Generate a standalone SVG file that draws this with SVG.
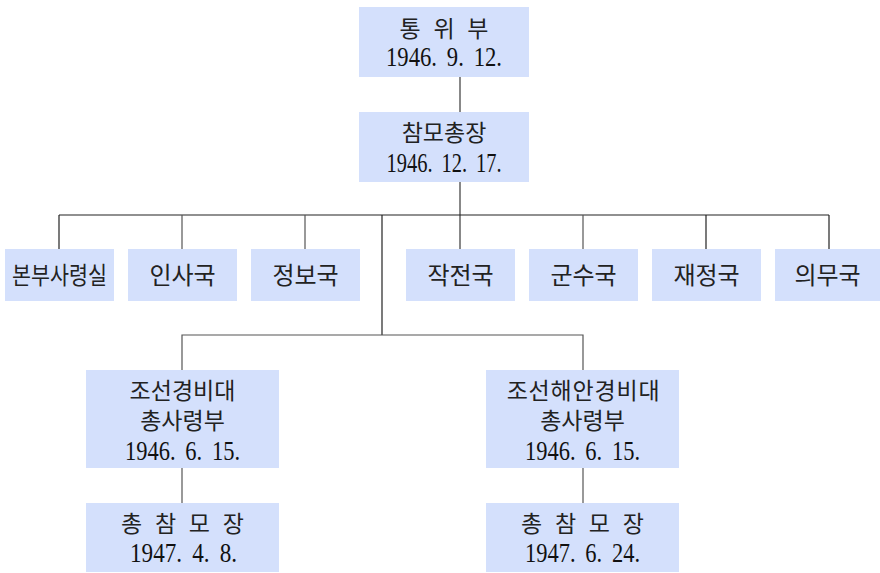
<svg xmlns="http://www.w3.org/2000/svg" width="880" height="573" viewBox="0 0 880 573">
<style>
.box{fill:#D4E0FC;}
.t{font-family:"Liberation Serif","Noto Sans CJK KR",serif;font-size:23px;fill:#222;text-anchor:middle;}
.r{font-size:24px;}
.n{font-family:"Liberation Serif","Noto Sans CJK KR",serif;font-size:27px;fill:#111;text-anchor:middle;word-spacing:5px;}
.sp{word-spacing:7px;}
.ln{stroke:#222;stroke-width:1.2;fill:none;}
.trunk{stroke:#888;stroke-width:2;fill:none;}
.gl{stroke:#555;stroke-width:1.2;fill:none;}
</style>
<rect width="880" height="573" fill="#fff"/>
<g id="connectors">
<line class="trunk" x1="460" y1="77" x2="460" y2="112"/>
<line class="trunk" x1="460" y1="182" x2="460" y2="249"/>
<line class="ln" x1="59" y1="215" x2="829" y2="215"/>
<line class="ln" x1="59" y1="215" x2="59" y2="249"/>
<line class="gl" x1="182" y1="215" x2="182" y2="249"/>
<line class="gl" x1="305" y1="215" x2="305" y2="249"/>
<line class="gl" x1="583" y1="215" x2="583" y2="249"/>
<line class="ln" x1="706" y1="215" x2="706" y2="249"/>
<line class="ln" x1="829" y1="215" x2="829" y2="249"/>
<line class="ln" x1="382" y1="215" x2="382" y2="335"/>
<polyline class="gl" points="182,370 182,335 583,335 583,370"/>
<line class="gl" x1="182" y1="468" x2="182" y2="503"/>
<line class="gl" x1="583" y1="468" x2="583" y2="503"/>
</g>
<g id="n-tongwibu">
<rect class="box" x="359" y="7" width="170" height="70"/>
<text class="t sp" x="444" y="37">통 위 부</text>
<text class="n" x="444" y="66" textLength="116" lengthAdjust="spacingAndGlyphs">1946. 9. 12.</text>
</g>
<g id="n-chammo">
<rect class="box" x="359" y="112" width="170" height="70"/>
<text class="t" x="444" y="141">참모총장</text>
<text class="n" x="444" y="172" textLength="115" lengthAdjust="spacingAndGlyphs">1946. 12. 17.</text>
</g>
<g id="n-bonbu">
<rect class="box" x="5" y="249" width="109" height="52"/>
<text class="t r" x="59.5" y="284" textLength="95" lengthAdjust="spacingAndGlyphs">본부사령실</text>
</g>
<g id="n-insa">
<rect class="box" x="128" y="249" width="109" height="52"/>
<text class="t r" x="182.5" y="284">인사국</text>
</g>
<g id="n-jeongbo">
<rect class="box" x="251" y="249" width="109" height="52"/>
<text class="t r" x="305.5" y="284">정보국</text>
</g>
<g id="n-jakjeon">
<rect class="box" x="406" y="249" width="109" height="52"/>
<text class="t r" x="460.5" y="284">작전국</text>
</g>
<g id="n-gunsu">
<rect class="box" x="529" y="249" width="109" height="52"/>
<text class="t r" x="583.5" y="284">군수국</text>
</g>
<g id="n-jaejeong">
<rect class="box" x="652" y="249" width="109" height="52"/>
<text class="t r" x="706.5" y="284">재정국</text>
</g>
<g id="n-uimu">
<rect class="box" x="775" y="249" width="109" height="52"/>
<text class="t r" x="827.5" y="284">의무국</text>
</g>
<g id="n-gyeongbi">
<rect class="box" x="86" y="370" width="193" height="98"/>
<text class="t" x="182.5" y="399">조선경비대</text>
<text class="t" x="182.5" y="429">총사령부</text>
<text class="n" x="182.5" y="460" textLength="115" lengthAdjust="spacingAndGlyphs">1946. 6. 15.</text>
</g>
<g id="n-haean">
<rect class="box" x="486" y="370" width="193" height="98"/>
<text class="t" x="583.5" y="399" letter-spacing="0.8">조선해안경비대</text>
<text class="t" x="582.5" y="429">총사령부</text>
<text class="n" x="582.5" y="460" textLength="115" lengthAdjust="spacingAndGlyphs">1946. 6. 15.</text>
</g>
<g id="n-chongchammo1">
<rect class="box" x="86" y="503" width="193" height="69"/>
<text class="t sp" x="182.5" y="532">총 참 모 장</text>
<text class="n" x="183.5" y="562" textLength="107" lengthAdjust="spacingAndGlyphs">1947. 4. 8.</text>
</g>
<g id="n-chongchammo2">
<rect class="box" x="486" y="503" width="193" height="69"/>
<text class="t sp" x="582.5" y="532">총 참 모 장</text>
<text class="n" x="582.5" y="562" textLength="115" lengthAdjust="spacingAndGlyphs">1947. 6. 24.</text>
</g>
</svg>
